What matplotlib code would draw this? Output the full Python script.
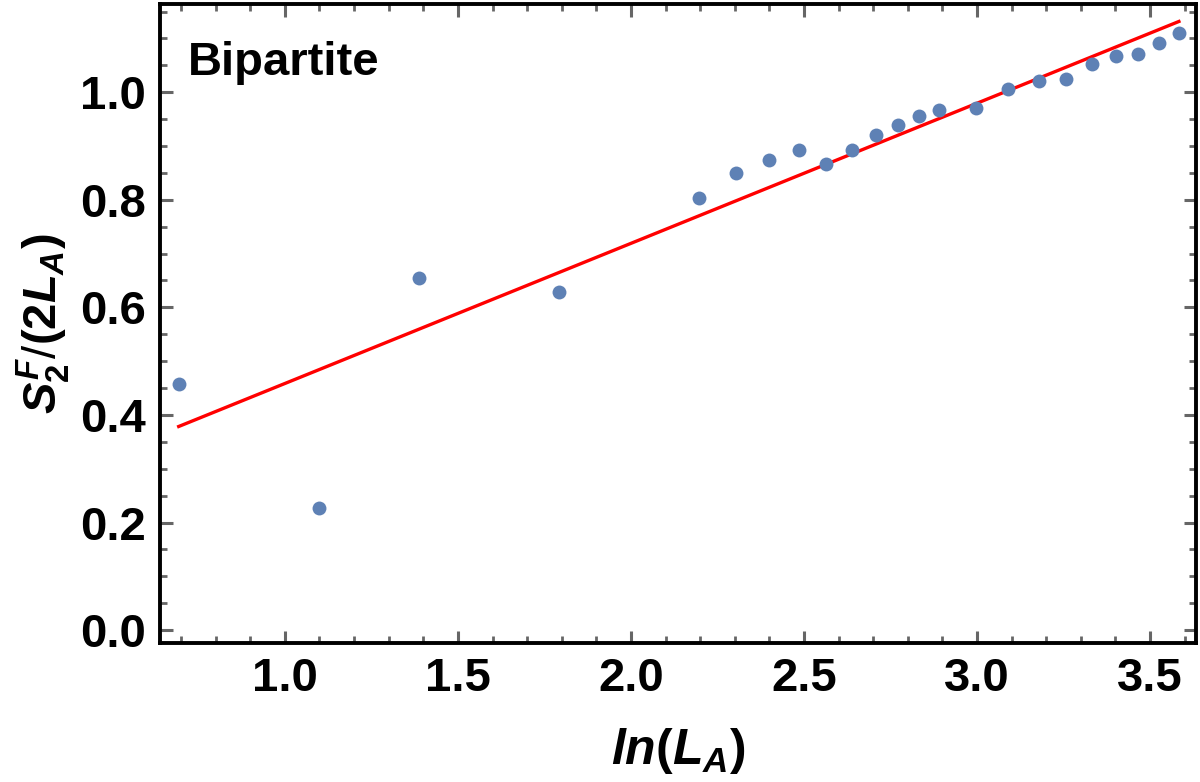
import numpy as np
import matplotlib
matplotlib.use("Agg")
import matplotlib.pyplot as plt
from matplotlib.ticker import MultipleLocator

# data: x = ln(L_A)
LA = [2, 3, 4, 6, 9, 10, 11, 12, 13, 14, 15, 16, 17, 18, 20, 22, 24, 26, 28, 30, 32, 34, 36]
S2F = [0.457, 0.227, 0.654, 0.628, 0.803, 0.849, 0.874, 0.892, 0.866, 0.893, 0.920, 0.939,
       0.955, 0.967, 0.971, 1.006, 1.021, 1.025, 1.052, 1.067, 1.071, 1.091, 1.110]
# fitted line (slope, intercept)
fit_slope = 0.2605
fit_icpt = 0.198

xarr = np.log(LA)
yfit = fit_icpt + fit_slope * xarr

plt.rcParams['font.family'] = ['Liberation Sans', 'DejaVu Sans']
plt.rcParams['font.weight'] = 'bold'
plt.rcParams['mathtext.fontset'] = 'custom'
plt.rcParams['mathtext.it'] = 'Liberation Sans:bold:italic'
plt.rcParams['mathtext.rm'] = 'Liberation Sans:bold'
plt.rcParams['mathtext.bf'] = 'Liberation Sans:bold'

fig = plt.figure(figsize=(12, 7.82), dpi=100)
ax = fig.add_axes([0.1333, 0.1777, 0.8634, 0.8172])

ax.plot([xarr[0], xarr[-1]], [yfit[0], yfit[-1]], color='#ff0000', lw=2.4, zorder=2)
ax.plot(xarr, S2F, 'o', color='#5e81b5', ms=10, mec='none', zorder=3)

ax.set_xlim(0.639, 3.633)
ax.set_ylim(-0.024, 1.164)
ax.xaxis.set_major_locator(MultipleLocator(0.5))
ax.xaxis.set_minor_locator(MultipleLocator(0.1))
ax.yaxis.set_major_locator(MultipleLocator(0.2))
ax.yaxis.set_minor_locator(MultipleLocator(0.05))
ax.xaxis.set_major_formatter(plt.FuncFormatter(lambda v, p: f"{v:.1f}"))
ax.yaxis.set_major_formatter(plt.FuncFormatter(lambda v, p: f"{v:.1f}"))

ax.tick_params(which='both', direction='in', top=True, right=True, color='#666666')
ax.tick_params(which='major', length=9, width=2.2, labelsize=34, pad=10)
ax.tick_params(which='minor', length=5, width=2.0)
for s in ax.spines.values():
    s.set_linewidth(2.8)

ax.set_xlabel(r'$ln(L_A)$', fontsize=36, labelpad=18)
ax.set_ylabel(r'$S_2^F$/$(2L_A)$', fontsize=34, labelpad=6)

ax.text(0.72, 1.032, 'Bipartite', fontsize=34, fontweight='bold', va='baseline', ha='left',
        bbox=dict(facecolor='white', edgecolor='none', pad=3))

fig.savefig('out.png', dpi=100)
